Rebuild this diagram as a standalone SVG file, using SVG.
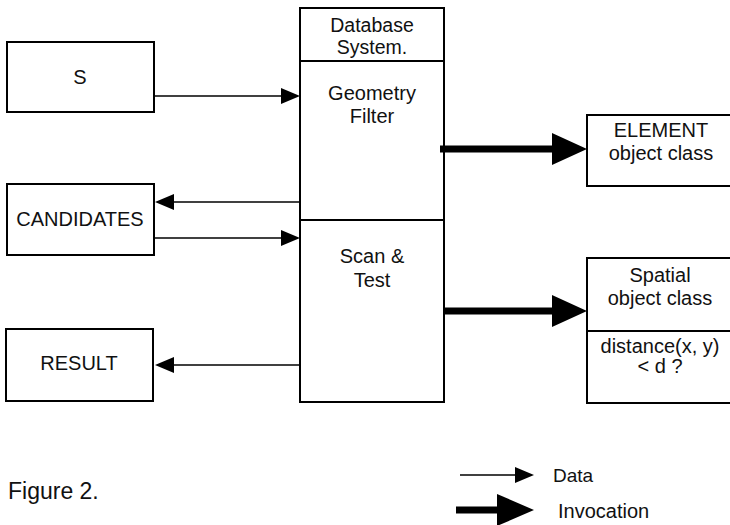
<svg xmlns="http://www.w3.org/2000/svg" width="730" height="525" viewBox="0 0 730 525">
  <style>
    .box { fill: #fff; stroke: #000; stroke-width: 2; }
    .div { stroke: #000; stroke-width: 2; fill: none; }
    .t { font-family: "Liberation Sans", Arial, sans-serif; font-size: 20px; fill: #111; text-anchor: middle; }
    .tl { font-family: "Liberation Sans", Arial, sans-serif; font-size: 20px; fill: #111; }
    .data { stroke: #000; stroke-width: 1.6; fill: none; }
    .inv { stroke: #000; stroke-width: 7; fill: none; }
    .head { fill: #000; }
  </style>
  <rect width="730" height="525" fill="#fff"/>

  <!-- input / output boxes -->
  <g id="node-s">
    <rect class="box" x="7" y="42" width="147" height="70"/>
    <text class="t" x="80" y="84">S</text>
  </g>
  <g id="node-candidates">
    <rect class="box" x="7" y="184" width="147" height="71"/>
    <text class="t" x="80" y="226">CANDIDATES</text>
  </g>
  <g id="node-result">
    <rect class="box" x="6" y="329" width="147" height="72"/>
    <text class="t" x="79" y="370">RESULT</text>
  </g>

  <!-- database system column -->
  <g id="node-database">
    <rect class="box" x="300" y="8" width="144" height="394"/>
    <line class="div" x1="300" y1="61" x2="444" y2="61"/>
    <line class="div" x1="300" y1="220" x2="444" y2="220"/>
    <text class="t" x="372" y="32" style="font-size:19.5px">Database</text>
    <text class="t" x="372" y="54" style="font-size:19.5px">System.</text>
    <text class="t" x="372" y="100">Geometry</text>
    <text class="t" x="372" y="123">Filter</text>
    <text class="t" x="372" y="263">Scan &amp;</text>
    <text class="t" x="372" y="287">Test</text>
  </g>

  <!-- object classes -->
  <g id="node-element">
    <rect class="box" x="587" y="115" width="146" height="71"/>
    <text class="t" x="661" y="137">ELEMENT</text>
    <text class="t" x="661" y="160">object class</text>
  </g>
  <g id="node-spatial">
    <rect class="box" x="587" y="258" width="146" height="145"/>
    <line class="div" x1="587" y1="331" x2="733" y2="331"/>
    <text class="t" x="660" y="282">Spatial</text>
    <text class="t" x="660" y="305">object class</text>
    <text class="t" x="660" y="353">distance(x, y)</text>
    <text class="t" x="660" y="373">&lt; d ?</text>
  </g>

  <!-- connectors -->
  <g id="connectors">
    <!-- data flow -->
    <line class="data" x1="154" y1="96" x2="282" y2="96"/>
    <polygon class="head" points="300,96 281,88 281,104"/>
    <line class="data" x1="300" y1="202" x2="172" y2="202"/>
    <polygon class="head" points="155,202 174,194 174,210"/>
    <line class="data" x1="154" y1="238" x2="282" y2="238"/>
    <polygon class="head" points="300,238 281,230 281,246"/>
    <line class="data" x1="300" y1="365" x2="172" y2="365"/>
    <polygon class="head" points="155,365 174,357 174,373"/>
    <!-- invocation -->
    <line class="inv" x1="440" y1="149" x2="556" y2="149"/>
    <polygon class="head" points="587,149 552,133 552,165"/>
    <line class="inv" x1="444" y1="311" x2="556" y2="311"/>
    <polygon class="head" points="587,311 552,295 552,327"/>
  </g>

  <!-- legend -->
  <g id="legend">
    <line class="data" x1="460" y1="475" x2="517" y2="475"/>
    <polygon class="head" points="534,475 515,467 515,483"/>
    <text class="tl" x="553" y="482" style="font-size:19px">Data</text>
    <line class="inv" x1="456" y1="510" x2="500" y2="510"/>
    <polygon class="head" points="534,510 497,494 497,526"/>
    <text class="tl" x="558" y="518">Invocation</text>
  </g>

  <text class="tl" x="8" y="499" style="font-size:23px">Figure 2.</text>
</svg>
